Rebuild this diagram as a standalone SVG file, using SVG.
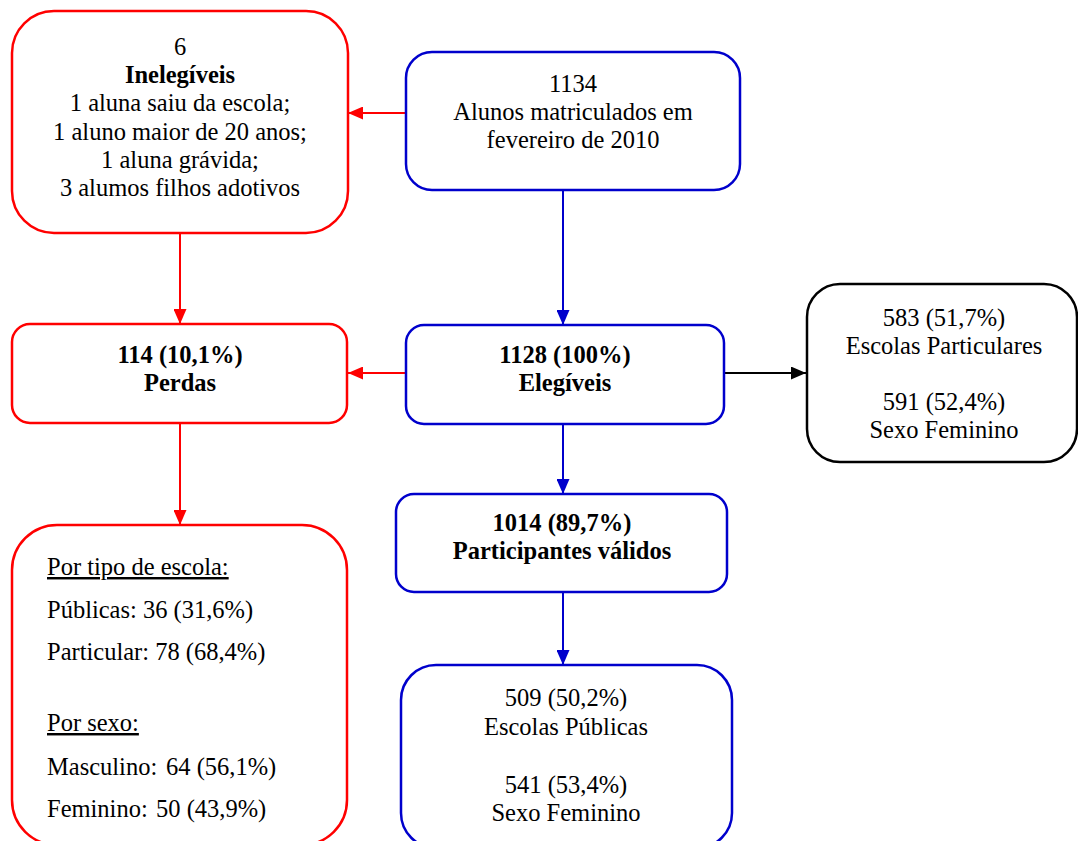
<svg xmlns="http://www.w3.org/2000/svg" width="1078" height="841" viewBox="0 0 1078 841">
<style>
text{font-family:"Liberation Serif","Times New Roman",serif;font-size:24.5px;fill:#000}
.c{text-anchor:middle}
.b{font-weight:bold}
.u{text-decoration:underline}
.box{fill:#fff;stroke-width:2.5}
.red{stroke:#ff0000}
.blue{stroke:#0000cc}
.blk{stroke:#000}
.ln{fill:none;stroke-width:2}
</style>
<defs>
<marker id="ar" markerUnits="userSpaceOnUse" markerWidth="15" markerHeight="13" viewBox="0 0 15 13" refX="15" refY="6.5" orient="auto"><path d="M0,0 L15,6.5 L0,13 z" fill="#ff0000"/></marker>
<marker id="ab" markerUnits="userSpaceOnUse" markerWidth="15" markerHeight="13" viewBox="0 0 15 13" refX="15" refY="6.5" orient="auto"><path d="M0,0 L15,6.5 L0,13 z" fill="#0000cc"/></marker>
<marker id="ak" markerUnits="userSpaceOnUse" markerWidth="15" markerHeight="13" viewBox="0 0 15 13" refX="15" refY="6.5" orient="auto"><path d="M0,0 L15,6.5 L0,13 z" fill="#000"/></marker>
</defs>
<rect width="1078" height="841" fill="#fff"/>
<g id="connectors">
<line class="ln red" x1="406" y1="113" x2="348" y2="113" marker-end="url(#ar)"/>
<line class="ln red" x1="180" y1="233" x2="180" y2="324" marker-end="url(#ar)"/>
<line class="ln blue" x1="563" y1="190" x2="563" y2="325" marker-end="url(#ab)"/>
<line class="ln red" x1="406" y1="373" x2="348" y2="373" marker-end="url(#ar)"/>
<line class="ln blk" x1="724" y1="373" x2="806" y2="373" marker-end="url(#ak)"/>
<line class="ln red" x1="180" y1="423" x2="180" y2="525" marker-end="url(#ar)"/>
<line class="ln blue" x1="563" y1="424" x2="563" y2="494" marker-end="url(#ab)"/>
<line class="ln blue" x1="563" y1="592" x2="563" y2="665" marker-end="url(#ab)"/>
</g>
<g id="inelegiveis">
<rect class="box red" x="12" y="11" width="336" height="222" rx="42"/>
<text class="c" x="180" y="55">6</text>
<text class="c b" x="180" y="83">Inelegíveis</text>
<text class="c" x="180" y="111">1 aluna saiu da escola;</text>
<text class="c" x="180" y="140">1 aluno maior de 20 anos;</text>
<text class="c" x="180" y="168">1 aluna grávida;</text>
<text class="c" x="180" y="196">3 alumos filhos adotivos</text>
</g>
<g id="matriculados">
<rect class="box blue" x="406" y="52" width="334" height="138" rx="26"/>
<text class="c" x="573" y="92">1134</text>
<text class="c" x="573" y="120">Alunos matriculados em</text>
<text class="c" x="573" y="148">fevereiro de 2010</text>
</g>
<g id="perdas">
<rect class="box red" x="12" y="324" width="335" height="99" rx="18"/>
<text class="c b" x="180" y="363">114 (10,1%)</text>
<text class="c b" x="180" y="391">Perdas</text>
</g>
<g id="elegiveis">
<rect class="box blue" x="406" y="325" width="318" height="99" rx="18"/>
<text class="c b" x="565" y="363">1128 (100%)</text>
<text class="c b" x="565" y="391">Elegíveis</text>
</g>
<g id="particulares">
<rect class="box blk" x="807" y="284" width="270" height="178" rx="33"/>
<text class="c" x="944" y="326">583 (51,7%)</text>
<text class="c" x="944" y="354">Escolas Particulares</text>
<text class="c" x="944" y="410">591 (52,4%)</text>
<text class="c" x="944" y="438">Sexo Feminino</text>
</g>
<g id="validos">
<rect class="box blue" x="396" y="494" width="331" height="98" rx="18"/>
<text class="c b" x="562" y="531">1014 (89,7%)</text>
<text class="c b" x="562" y="559">Participantes válidos</text>
</g>
<g id="perdas-detalhe">
<rect class="box red" x="12" y="525" width="335" height="320" rx="45"/>
<text class="u" x="47" y="575">Por tipo de escola:</text>
<text x="47" y="618">Públicas: 36 (31,6%)</text>
<text x="47" y="660">Particular: 78 (68,4%)</text>
<text class="u" x="47" y="731">Por sexo:</text>
<text x="47" y="775">Masculino: <tspan x="166">64 (56,1%)</tspan></text>
<text x="47" y="817">Feminino: <tspan x="156">50 (43,9%)</tspan></text>
</g>
<g id="publicas">
<rect class="box blue" x="401" y="665" width="331" height="183" rx="35"/>
<text class="c" x="566" y="706">509 (50,2%)</text>
<text class="c" x="566" y="735">Escolas Públicas</text>
<text class="c" x="566" y="793">541 (53,4%)</text>
<text class="c" x="566" y="821">Sexo Feminino</text>
</g>
</svg>
